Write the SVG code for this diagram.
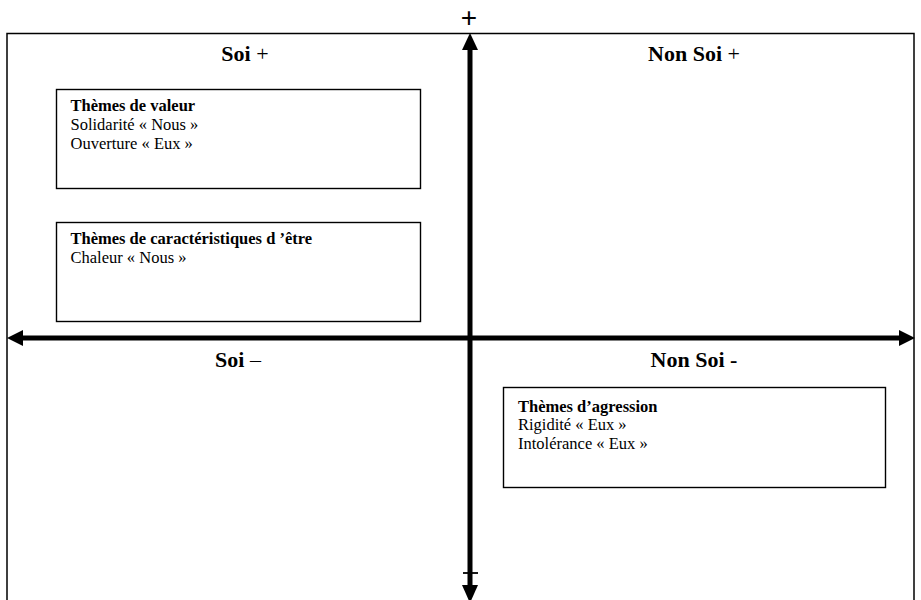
<svg xmlns="http://www.w3.org/2000/svg" width="921" height="600" viewBox="0 0 921 600">
<style>
.t{font-family:"Liberation Serif","Times New Roman",serif;fill:#000}
.q{font-size:22px;font-weight:bold}
.b{font-size:16.5px}
.h{font-weight:bold}
.box{fill:#fff;stroke:#000;stroke-width:1.4}
.ax{stroke:#000;stroke-width:5;fill:none}
.hd{fill:#000}
</style>
<rect width="921" height="600" fill="#fff"/>
<g id="frame">
<rect x="7" y="33.5" width="907" height="580" fill="none" stroke="#000" stroke-width="1.5"/>
</g>
<g id="connectors">
<line class="ax" x1="470" y1="48" x2="470" y2="587"/>
<polygon class="hd" points="470,33 462,50 478,50"/>
<polygon class="hd" points="470,603 462,585 478,585"/>
<line class="ax" x1="21" y1="338" x2="901" y2="338"/>
<polygon class="hd" points="7,338 23,330 23,346"/>
<polygon class="hd" points="915,338 899,330 899,346"/>
<line x1="463" y1="573" x2="478" y2="573" stroke="#000" stroke-width="1.8"/>
</g>
<text x="469" y="27" text-anchor="middle" font-family="Liberation Sans,Arial,sans-serif" font-size="28">+</text>
<g id="q-soi-plus"><text class="t q" x="245" y="61" text-anchor="middle">Soi <tspan font-weight="normal">+</tspan></text></g>
<g id="q-nonsoi-plus"><text class="t q" x="694" y="61" text-anchor="middle">Non Soi <tspan font-weight="normal">+</tspan></text></g>
<g id="q-soi-minus"><text class="t q" x="238" y="367" text-anchor="middle">Soi <tspan font-weight="normal">–</tspan></text></g>
<g id="q-nonsoi-minus"><text class="t q" x="694" y="367" text-anchor="middle">Non Soi -</text></g>
<g id="box-valeur">
<rect class="box" x="56.5" y="89.5" width="364" height="99"/>
<text class="t b h" x="70.5" y="111">Thèmes de valeur</text>
<text class="t b" x="70.5" y="130">Solidarité « Nous »</text>
<text class="t b" x="70.5" y="149">Ouverture « Eux »</text>
</g>
<g id="box-caract">
<rect class="box" x="56.5" y="222.5" width="364" height="99"/>
<text class="t b h" x="70.5" y="244">Thèmes de caractéristiques d ’être</text>
<text class="t b" x="70.5" y="263">Chaleur « Nous »</text>
</g>
<g id="box-agression">
<rect class="box" x="503.5" y="387.5" width="382" height="100"/>
<text class="t b h" x="518" y="412">Thèmes d’agression</text>
<text class="t b" x="518" y="430">Rigidité « Eux »</text>
<text class="t b" x="518" y="449">Intolérance « Eux »</text>
</g>
</svg>
